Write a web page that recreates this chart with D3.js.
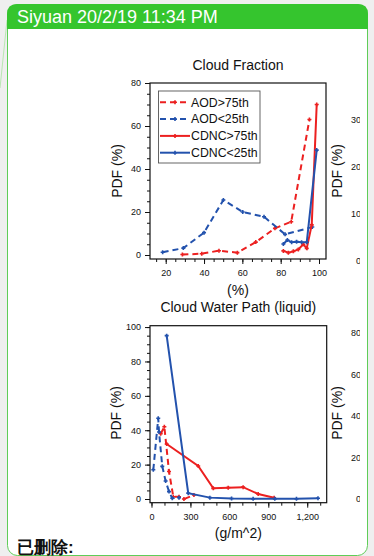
<!DOCTYPE html>
<html>
<head>
<meta charset="utf-8">
<script src="https://cdn.jsdelivr.net/npm/d3@7"></script>
<style>
  html, body { margin: 0; padding: 0; background: #efefef; }
  svg { display: block; }
  text { font-family: "Liberation Sans", Arial, Helvetica, sans-serif; }
</style>
</head>
<body>
<svg id="page" width="374" height="556"></svg>
<script>
// ---- Cloud Fraction panel data: [cloud fraction %, PDF %] ----
const cfAodHigh  = [[28.7,0.2],[38.8,0.6],[47.8,2.0],[57.4,1.1],[67,6],[77,12.4],[85.5,15.5],[95,63]];
const cfAodLow   = [[18.4,1.3],[29.2,3.2],[40,10.4],[50.1,25.6],[60.2,20],[71.3,17.8],[82.3,9.6],[96.5,13]];
const cfCdncHigh = [[81.4,1.9],[84,1.1],[86.6,1.7],[89.2,2.6],[91.8,5.0],[93.6,3.1],[96.2,14],[98.8,70]];
const cfCdncLow  = [[81.4,5.1],[83.5,7.0],[85.7,5.9],[88.3,6.2],[90.9,5.9],[93.6,5.9],[98.8,48.8]];
const cfXTicks = [20, 40, 60, 80, 100];
const cfYTicks = [0, 20, 40, 60, 80];
const cfSideTicks = [0, 10, 20, 30];

// ---- Cloud Water Path (liquid) panel data: [g/m^2, PDF %] ----
const cwpAodHigh  = [[71,38],[99,42],[135,16],[168,1.3],[212,1.3],[250,0],[327,2.3]];
const cwpAodLow   = [[14,17],[52,47],[58,39],[83,19],[109,10.5],[135,4.3],[160,0.4],[212,0.8]];
const cwpCdncHigh = [[117,32],[360,19.2],[476,6.2],[591,6.6],[706,6.9],[822,2.9],[945,0.7]];
const cwpCdncLow  = [[117,95],[283,3.4],[450,0.8],[617,0.3],[783,0.1],[950,0.1],[1117,0.1],[1283,0.4]];
const cwpXTicks = [0, 300, 600, 900, 1200];
const cwpYTicks = [0, 20, 40, 60, 80, 100];
const cwpSideTicks = [0, 20, 40, 60, 80];

const seriesNames = ["AOD>75th", "AOD<25th", "CDNC>75th", "CDNC<25th"];

const RED = "#ec2020", BLUE = "#2352ad";
const styles = [
  { color: RED,  dash: "6,4" },
  { color: BLUE, dash: "6,4" },
  { color: RED,  dash: null },
  { color: BLUE, dash: null }
];

const svg = d3.select("#page");

// ---- message card ----
svg.append("line").attr("x1", 7).attr("y1", 20).attr("x2", 0).attr("y2", 88)
  .attr("stroke", "#b9e6b3").attr("stroke-width", 1);
svg.append("rect").attr("x", 7.5).attr("y", 4.5).attr("width", 360).attr("height", 551)
  .attr("rx", 10).attr("fill", "#fff").attr("stroke", "#5fcd58").attr("stroke-width", 1);
svg.append("path")
  .attr("d", "M7,29 L7,14 Q7,4 17,4 L358,4 Q368,4 368,14 L368,29 Z")
  .attr("fill", "#35c52e");
svg.append("text").attr("x", 17).attr("y", 23).attr("fill", "#fff")
  .attr("font-size", 18).text("Siyuan 20/2/19 11:34 PM");

svg.append("defs").append("clipPath").attr("id", "sideClip")
  .append("rect").attr("x", 0).attr("y", 0).attr("width", 360).attr("height", 556);

function marker(g, x, y, color) {
  g.append("path")
    .attr("d", `M${x-2},${y}H${x+2}M${x},${y-2}V${y+2}`)
    .attr("stroke", color).attr("stroke-width", 1.6);
}

function panel(cfg) {
  const x = d3.scaleLinear().domain(cfg.xDomain).range([cfg.left, cfg.right]);
  const y = d3.scaleLinear().domain(cfg.yDomain).range([cfg.bottom, cfg.top]);
  const g = svg.append("g");

  // minor ticks
  g.append("g").attr("transform", `translate(0,${cfg.bottom})`)
    .call(d3.axisBottom(x).tickValues(cfg.xMinor).tickSize(3).tickFormat(""))
    .call(a => a.select(".domain").remove());
  g.append("g").attr("transform", `translate(${cfg.left},0)`)
    .call(d3.axisLeft(y).tickValues(cfg.yMinor).tickSize(3).tickFormat(""))
    .call(a => a.select(".domain").remove());
  // major ticks
  g.append("g").attr("transform", `translate(0,${cfg.bottom})`)
    .call(d3.axisBottom(x).tickValues(cfg.xTicks).tickSize(5).tickPadding(6))
    .call(a => a.select(".domain").remove())
    .call(a => a.selectAll("text").attr("font-size", 9).attr("fill", "#111"));
  g.append("g").attr("transform", `translate(${cfg.left},0)`)
    .call(d3.axisLeft(y).tickValues(cfg.yTicks).tickSize(5).tickPadding(4))
    .call(a => a.select(".domain").remove())
    .call(a => a.selectAll("text").attr("font-size", 9).attr("fill", "#111"));
  g.selectAll(".tick line").attr("stroke", "#111");

  // frame
  g.append("rect").attr("x", cfg.left).attr("y", cfg.top)
    .attr("width", cfg.right - cfg.left).attr("height", cfg.bottom - cfg.top)
    .attr("fill", "none").attr("stroke", "#111").attr("stroke-width", 1.2);

  // series
  const line = d3.line().x(d => x(d[0])).y(d => y(d[1]));
  cfg.series.forEach((data, i) => {
    const s = styles[i];
    g.append("path").datum(data).attr("d", line)
      .attr("fill", "none").attr("stroke", s.color).attr("stroke-width", 2)
      .attr("stroke-dasharray", s.dash);
    data.forEach(d => marker(g, x(d[0]), y(d[1]), s.color));
  });

  // texts
  const cx = (cfg.left + cfg.right) / 2;
  g.append("text").attr("x", cx).attr("y", cfg.titleY).attr("text-anchor", "middle")
    .attr("font-size", 14).attr("fill", "#111").text(cfg.title);
  g.append("text").attr("x", cx).attr("y", cfg.xLabelY).attr("text-anchor", "middle")
    .attr("font-size", 14).attr("fill", "#111").text(cfg.xLabel);
  g.append("text").attr("transform", `translate(${cfg.yLabelX},${cfg.yLabelCY}) rotate(-90)`)
    .attr("text-anchor", "middle").attr("dy", "0.35em")
    .attr("font-size", 14).attr("fill", "#111").text("PDF (%)");

  // neighbouring panel's left axis, cut off at the image edge
  const side = svg.append("g").attr("clip-path", "url(#sideClip)");
  const ys = d3.scaleLinear().domain(cfg.sideDomain).range(cfg.sideRange);
  side.append("g").attr("transform", "translate(364,0)")
    .call(d3.axisLeft(ys).tickValues(cfg.sideTicks).tickSize(0).tickPadding(3))
    .call(a => a.select(".domain").remove())
    .call(a => a.selectAll("text").attr("font-size", 9).attr("fill", "#111"));
  side.append("text").attr("transform", `translate(337,${cfg.yLabelCY}) rotate(-90)`)
    .attr("text-anchor", "middle").attr("dy", "0.35em")
    .attr("font-size", 14).attr("fill", "#111").text("PDF (%)");
  return { g, x, y };
}

const p1 = panel({
  left: 150, right: 326, top: 83, bottom: 259,
  xDomain: [11.8, 103.65], yDomain: [-1.86, 80],
  xTicks: cfXTicks, yTicks: cfYTicks,
  xMinor: d3.range(15, 101, 5), yMinor: d3.range(0, 81, 5),
  series: [cfAodHigh, cfAodLow, cfCdncHigh, cfCdncLow],
  title: "Cloud Fraction", titleY: 70, xLabel: "(%)", xLabelY: 295,
  yLabelX: 117, yLabelCY: 171,
  sideDomain: [0, 30], sideRange: [261, 120], sideTicks: cfSideTicks
});

panel({
  left: 150, right: 326.7, top: 325.7, bottom: 502.7,
  xDomain: [-11.5, 1350], yDomain: [-2.15, 100.8],
  xTicks: cwpXTicks, yTicks: cwpYTicks,
  xMinor: d3.range(0, 1301, 100), yMinor: d3.range(0, 101, 5),
  series: [cwpAodHigh, cwpAodLow, cwpCdncHigh, cwpCdncLow],
  title: "Cloud Water Path (liquid)", titleY: 312, xLabel: "(g/m^2)", xLabelY: 538,
  yLabelX: 116, yLabelCY: 413,
  sideDomain: [0, 80], sideRange: [499, 333], sideTicks: cwpSideTicks
});

// legend inside the cloud fraction panel
const lg = p1.g.append("g");
lg.append("rect").attr("x", 158.5).attr("y", 91).attr("width", 101.5).attr("height", 72)
  .attr("fill", "#fff").attr("stroke", "#555").attr("stroke-width", 0.9);
seriesNames.forEach((name, i) => {
  const ry = 102.3 + i * 16.8, s = styles[i];
  lg.append("line").attr("x1", 160).attr("x2", 190).attr("y1", ry).attr("y2", ry)
    .attr("stroke", s.color).attr("stroke-width", 2).attr("stroke-dasharray", s.dash);
  marker(lg, 175, ry, s.color);
  lg.append("text").attr("x", 191).attr("y", ry).attr("dy", "0.35em")
    .attr("font-size", 12.3).attr("fill", "#111").text(name);
});

// footer note below the charts
svg.append("text").attr("x", 17).attr("y", 553).attr("font-size", 17)
  .attr("font-weight", 700).attr("fill", "#111")
  .attr("font-family", "'Noto Sans CJK SC', 'Noto Sans CJK JP', sans-serif").text("已删除:");
</script>
</body>
</html>
